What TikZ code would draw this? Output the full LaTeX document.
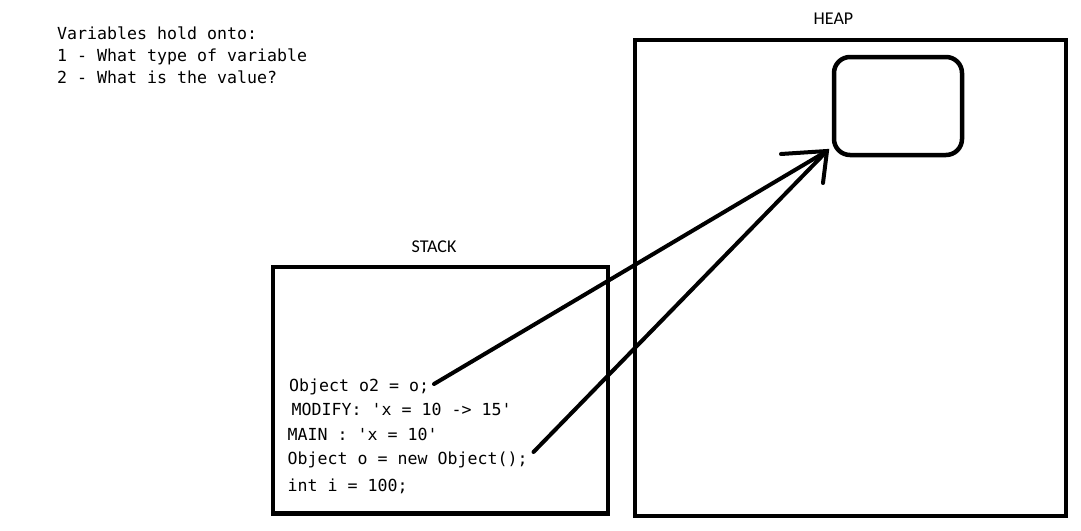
\documentclass[tikz,border=0pt]{standalone}
\usepackage{fontspec}
\newfontfamily\codefont{DejaVu Sans Mono}
\newfontfamily\labelfont{Carlito}
\begin{document}
\begin{tikzpicture}[x=1pt,y=-1pt,
  box/.style={draw=black,line width=4.5pt},
  objbox/.style={draw=black,line width=4.5pt,rounded corners=16pt},
  ptr/.style={draw=black,line width=4pt,line cap=round},
  code/.style={anchor=base west,inner sep=0pt,font=\codefont\fontsize{16.6}{18}\selectfont},
  lbl/.style={anchor=base,inner sep=0pt,font=\labelfont\fontsize{18}{20}\selectfont}]
\useasboundingbox (0,0) rectangle (1081,530);
% header text
\node[code] (h1) at (57,39) {Variables hold onto:};
\node[code] (h2) at (57,61) {1 - What type of variable};
\node[code] (h3) at (57,83) {2 - What is the value?};
% labels
\node[lbl] (heaplbl) at (833.5,24) {HEAP};
\node[lbl] (stacklbl) at (434,252) {STACK};
% boxes
\draw[box] (273,267) rectangle (608,513.5);
\draw[box] (635,40) rectangle (1066,516);
\node[objbox,minimum width=128pt,minimum height=98pt,inner sep=0pt] (obj) at (898,106) {};
% stack entries
\node[code] (s1) at (289,391.5) {Object o2 = o;};
\node[code] (s2) at (291.5,415) {MODIFY: 'x = 10 -> 15'};
\node[code] (s3) at (287.5,440) {MAIN : 'x = 10'};
\node[code] (s4) at (287.5,464) {Object o = new Object();};
\node[code] (s5) at (287.5,491) {int i = 100;};
% pointer coordinates
\coordinate (p1) at (434,384);
\coordinate (p2) at (533.5,452);
\coordinate (tip) at (827,151);
\coordinate (hl) at (781,154);
\coordinate (hd) at (823,183);
\draw[ptr] (p1) -- (tip);
\draw[ptr] (p2) -- (tip);
\draw[ptr] (hl) -- (tip) -- (hd);
\end{tikzpicture}
\end{document}
